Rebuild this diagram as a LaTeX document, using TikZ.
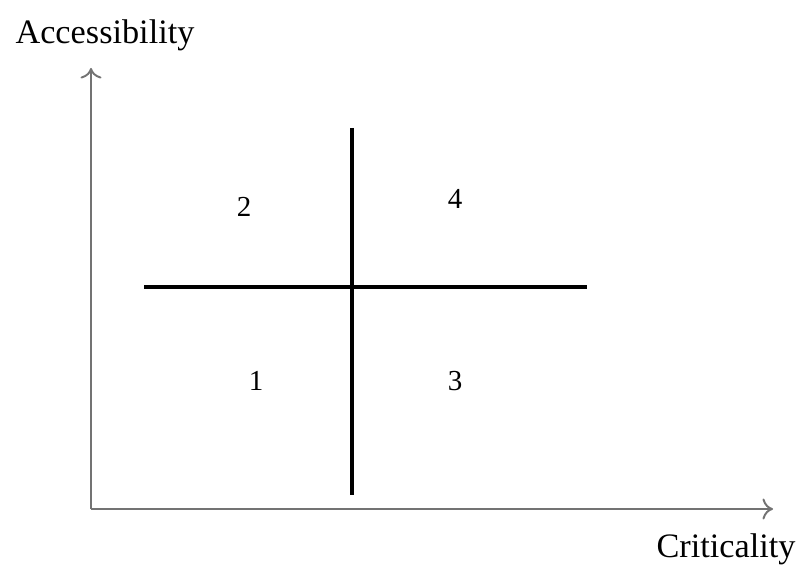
\documentclass[tikz,border=0pt]{standalone}
\usepackage{fontspec}
\setmainfont{Liberation Serif}
\usetikzlibrary{positioning, arrows.meta}

\begin{document}
\begin{tikzpicture}[font=\fontsize{19.5}{22}\selectfont]
  \useasboundingbox (0,0) rectangle (16.08,11.28);
  \tikzset{axis/.style={black!55, line width=1.1pt, -{To[length=6pt, width=12pt]}},
    divider/.style={black, line width=1.9pt},
    quadnum/.style={font=\fontsize{16.5}{18}\selectfont}}
  % axes
  \coordinate (origin) at (1.82,1.10);
  \coordinate (ytop) at (1.82,9.92);
  \coordinate (xend) at (15.46,1.10);
  \draw[axis] (origin) -- (ytop);
  \draw[axis] (origin) -- (xend);
  \node (access) at (2.10,10.58) {Accessibility};
  \node (crit) at (14.52,0.30) {Criticality};
  % the cross that splits the field into four
  \coordinate (vtop) at (7.04,8.72);
  \coordinate (vbot) at (7.04,1.38);
  \coordinate (hleft) at (2.88,5.54);
  \coordinate (hright) at (11.74,5.54);
  \draw[divider] (vtop) -- (vbot);
  \draw[divider] (hleft) -- (hright);
  \node[quadnum] (q2) at (4.88,7.14) {2};
  \node[quadnum] (q4) at (9.10,7.30) {4};
  \node[quadnum] (q1) at (5.12,3.66) {1};
  \node[quadnum] (q3) at (9.10,3.66) {3};
\end{tikzpicture}
\end{document}
